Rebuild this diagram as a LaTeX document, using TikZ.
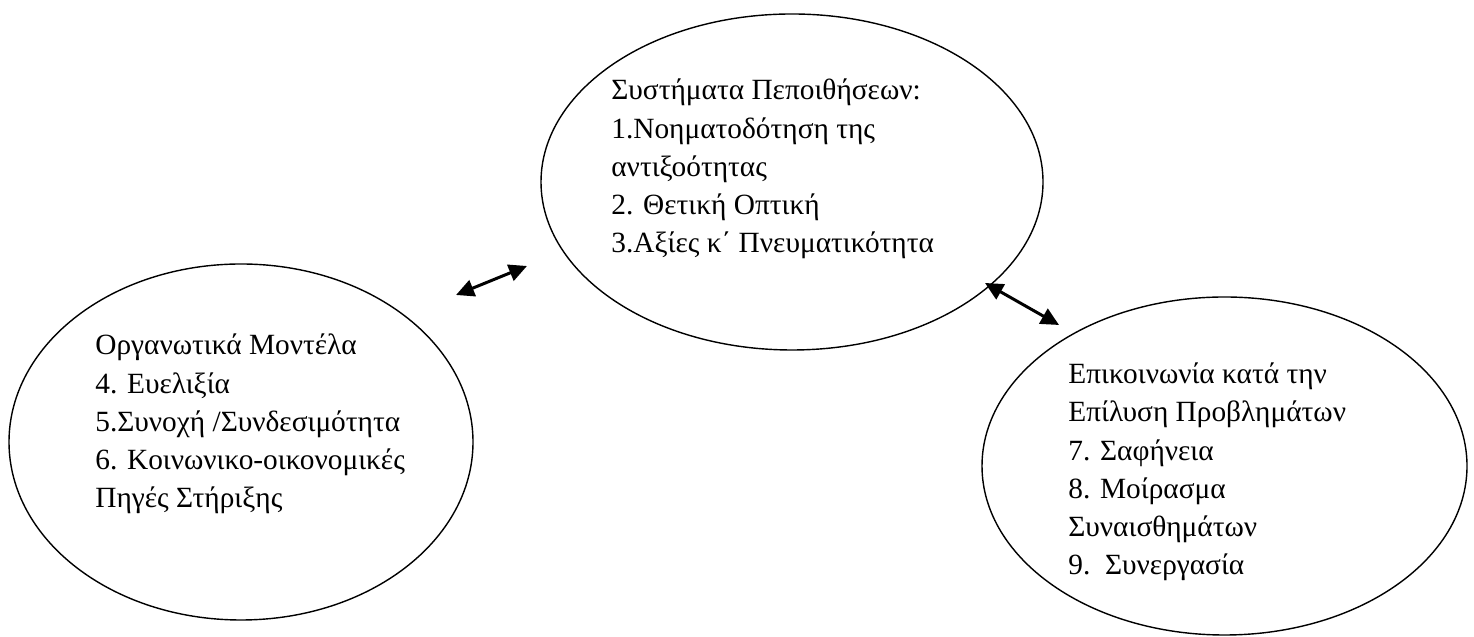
\documentclass[tikz,border=0pt]{standalone}
\usepackage{fontspec}
\setmainfont{Liberation Serif}
\usepackage{tikz}
\usetikzlibrary{positioning,shapes,arrows.meta,calc}

\begin{document}
\begin{tikzpicture}[
	every node/.style={
		inner sep=0pt
	},
	bubble/.style={
		ellipse,
		draw=black,
		line width=0.8pt
	},
	itemlist/.style={
		anchor=base west,
		align=left,
		font=\fontsize{16.7}{21.8}\selectfont
	},
	link/.style={
		line width=1.7pt,
		{Triangle[length=3.6mm,width=3.4mm]}-{Triangle[length=3.6mm,width=3.4mm]}
	}
]

  \useasboundingbox (0,0) rectangle (29.48,12.74);

  \node (Pepoithiseis) [bubble, minimum width=10.04cm, minimum height=6.72cm] at (15.84,9.10) {};
  \node (Organosi) [bubble, minimum width=9.28cm, minimum height=7.12cm] at (4.82,3.90) {};
  \node (Epikoinonia) [bubble, minimum width=9.70cm, minimum height=6.76cm] at (24.49,3.42) {};

  % text anchored at the baseline of its last line
  \node (PepoithiseisText) [itemlist] at (12.22,7.68) {Συστήματα Πεποιθήσεων:\\1.Νοηματοδότηση της\\αντιξοότητας\\2. Θετική Οπτική\\3.Αξίες κ΄ Πνευματικότητα};
  \node (OrganosiText) [itemlist] at (1.90,2.58) {Οργανωτικά Μοντέλα\\4. Ευελιξία\\5.Συνοχή /Συνδεσιμότητα\\6. Κοινωνικο-οικονομικές\\Πηγές Στήριξης};
  \node (EpikoinoniaText) [itemlist] at (21.36,1.24) {Επικοινωνία κατά την\\Επίλυση Προβλημάτων\\7. Σαφήνεια\\8. Μοίρασμα\\Συναισθημάτων\\9.\ \ Συνεργασία};

  % free ends of the two links
  \coordinate (LinkA1) at (9.12,6.84);
  \coordinate (LinkA2) at (10.54,7.42);
  \coordinate (LinkB1) at (19.70,7.08);
  \coordinate (LinkB2) at (21.18,6.24);

  \draw[link] (LinkA1) -- (LinkA2);
  \draw[link] (LinkB1) -- (LinkB2);
\end{tikzpicture}
\end{document}
